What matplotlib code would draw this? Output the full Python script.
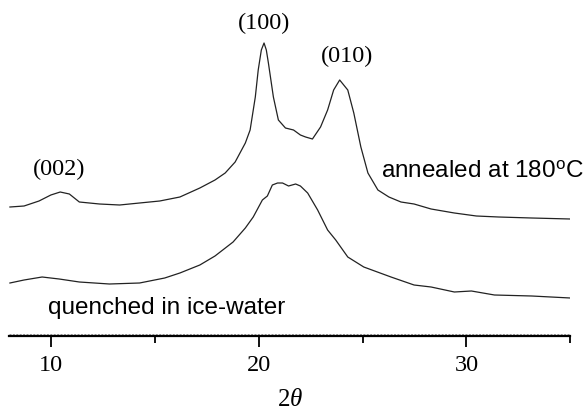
import matplotlib
matplotlib.use("Agg")
import matplotlib.pyplot as plt
from matplotlib.ticker import MultipleLocator

plt.rcParams['mathtext.fontset'] = 'custom'
plt.rcParams['mathtext.rm'] = 'Liberation Sans'
plt.rcParams['mathtext.it'] = 'Liberation Serif:italic'

# 2-theta (degrees) and intensity (a.u.)
annealed_x = [8.03, 8.71, 9.43, 10.0, 10.45, 10.89, 11.37, 12.34, 13.31, 14.27, 15.24, 16.21,
              17.17, 17.90, 18.39, 18.87, 19.36, 19.59, 19.84, 19.98, 20.13, 20.26, 20.37,
              20.47, 20.71, 20.95, 21.29, 21.68, 22.01, 22.26, 22.59, 22.98, 23.32, 23.61,
              23.90, 24.29, 24.58, 24.92, 25.26, 25.74, 26.27, 26.85, 27.48, 28.30, 29.42,
              30.48, 31.55, 33.14, 35.0]
annealed_y = [129, 130, 135, 141, 144, 142, 134, 132, 131, 133, 135, 139,
              148, 156, 163, 174, 193, 206, 239, 266, 286, 293, 286,
              273, 239, 216, 208, 206, 201, 199, 197, 209, 226, 246,
              256, 246, 223, 189, 163, 146, 139, 134, 132, 127, 123,
              120, 119, 118, 117]

quenched_x = [8.03, 8.71, 9.58, 10.40, 11.37, 12.82, 14.27, 15.48, 16.21, 17.17, 17.90,
              18.77, 19.36, 19.74, 20.18, 20.42, 20.66, 20.91, 21.15, 21.44, 21.78, 22.01,
              22.36, 22.84, 23.32, 23.71, 24.29, 25.06, 26.37, 27.48, 28.30, 29.42, 30.24,
              31.35, 33.14, 35.0]
quenched_y = [53, 56, 59, 57, 54, 52, 53, 58, 63, 71, 80,
              94, 108, 119, 136, 140, 151, 153, 153, 150, 152, 150,
              143, 126, 106, 96, 79, 69, 59, 51, 49, 44, 45,
              41, 40, 38]

peak_labels = ["(002)", "(100)", "(010)"]
peak_label_x = [10.40, 20.28, 24.27]
peak_label_y = [167, 313, 280]

major_ticks = [10, 20, 30]

fig = plt.figure(figsize=(5.88, 4.16), dpi=100)
ax = fig.add_axes([9.3 / 588, 80 / 416, (570.3 - 9.3) / 588, 336 / 416])
ax.plot(annealed_x, annealed_y, color='#222222', lw=0.9)
ax.plot(quenched_x, quenched_y, color='#222222', lw=0.9)

ax.set_xlim(8, 35)
ax.set_ylim(0, 336)
for s in ['top', 'right', 'left']:
    ax.spines[s].set_visible(False)
ax.spines['bottom'].set_linewidth(1.6)
ax.set_yticks([])
ax.set_xticks(major_ticks)
ax.set_xticklabels([str(t) for t in major_ticks], family='Liberation Serif', fontsize=17.5)
ax.xaxis.set_minor_locator(MultipleLocator(5))
ax.tick_params(axis='x', which='major', length=8, width=1.3, direction='out', pad=6)
ax.tick_params(axis='x', which='minor', length=5, width=1.3, direction='out')
ax.axhline(2, color='#999999', lw=0.7, ls=(0, (2, 1.5)))

for lab, lx, ly in zip(peak_labels, peak_label_x, peak_label_y):
    ax.text(lx, ly, lab, family='Liberation Serif', fontsize=17.5, ha='center', va='center')

ax.text(25.89, 159, r"annealed at 180$^{\mathrm{o}}$C", family='Liberation Sans', fontsize=17.5,
        ha='left', va='baseline')
ax.text(9.87, 22, "quenched in ice-water", family='Liberation Sans', fontsize=17.5,
        ha='left', va='baseline')

ax.set_xlabel(r"2$\mathit{\theta}$", family='Liberation Serif', fontsize=18, labelpad=9)

fig.savefig("out.png", dpi=100)
